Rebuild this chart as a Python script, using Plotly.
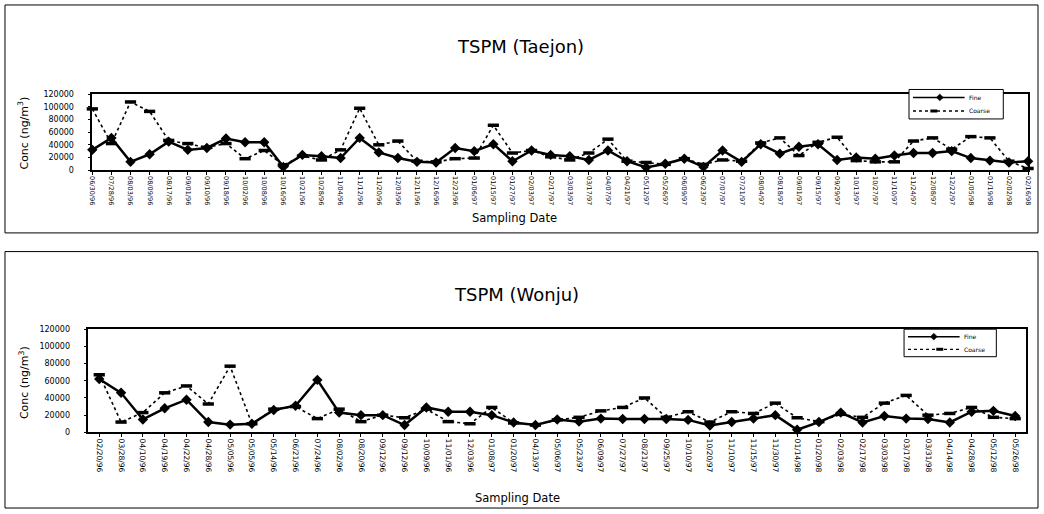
import plotly.graph_objects as go

W, H = 1044, 514

# ---------------- data ----------------
taejon_dates = [
    "06/30/96", "07/28/96", "08/03/96", "08/09/96", "08/17/96", "09/01/96", "09/10/96", "09/18/96",
    "10/02/96", "10/08/96", "10/16/96", "10/21/96", "10/28/96", "11/04/96", "11/12/96", "11/20/96",
    "12/03/96", "12/11/96", "12/16/96", "12/23/96", "01/06/97", "01/15/97", "01/27/97", "02/03/97",
    "02/17/97", "03/03/97", "03/17/97", "04/07/97", "04/21/97", "05/12/97", "05/26/97", "06/09/97",
    "06/23/97", "07/07/97", "07/21/97", "08/04/97", "08/18/97", "09/01/97", "09/15/97", "09/29/97",
    "10/13/97", "10/27/97", "11/10/97", "11/24/97", "12/08/97", "12/22/97", "01/05/98", "01/19/98",
    "02/02/98", "02/16/98",
]
taejon_fine = [32000, 51000, 13000, 25000, 45000, 32000, 35000, 50000, 44000, 44000,
               5000, 24000, 22000, 19000, 51000, 28000, 19000, 13000, 12000, 35000,
               30000, 41000, 14000, 31000, 24000, 22000, 16000, 31000, 14000, 4000,
               10000, 18000, 5000, 31000, 13000, 41000, 26000, 37000, 41000, 16000,
               20000, 18000, 23000, 27000, 27000, 30000, 19000, 15000, 12000, 14000]
taejon_coarse = [97000, 42000, 108000, 93000, 47000, 42000, 36000, 42000, 18000, 31000,
                 8000, 22000, 16000, 32000, 98000, 40000, 46000, 14000, 13000, 18000,
                 19000, 71000, 27000, 31000, 21000, 16000, 27000, 49000, 14000, 12000,
                 9000, 18000, 9000, 16000, 14000, 43000, 51000, 23000, 44000, 52000,
                 15000, 13000, 13000, 46000, 51000, 33000, 53000, 51000, 14000, 2500]

wonju_dates = [
    "02/20/96", "03/28/96", "04/10/96", "04/19/96", "04/22/96", "04/28/96", "05/05/96", "05/05/96",
    "05/14/96", "06/21/96", "07/24/96", "08/02/96", "08/20/96", "09/12/96", "09/12/96", "10/09/96",
    "11/01/96", "12/03/96", "01/08/97", "01/20/97", "04/13/97", "05/06/97", "05/23/97", "06/09/97",
    "07/27/97", "08/21/97", "09/25/97", "10/10/97", "10/20/97", "11/10/97", "11/15/97", "11/30/97",
    "01/14/98", "01/20/98", "02/03/98", "02/17/98", "03/03/98", "03/17/98", "03/31/98", "04/14/98",
    "04/28/98", "05/12/98", "05/26/98",
]
wonju_fine = [62000, 46000, 15000, 28000, 38000, 12000, 9000, 10000, 26000, 31000,
              61000, 23000, 20000, 20000, 8500, 29000, 24000, 24000, 20000, 11500,
              8500, 15000, 12500, 16000, 15500, 15500, 15500, 14500, 8000, 12000,
              16000, 20000, 3000, 12000, 23000, 11500, 19000, 16000, 15500, 11500,
              24000, 25000, 19000]
wonju_coarse = [67000, 12000, 23000, 46000, 54000, 33000, 77000, 10000, 27000, 30000,
                16000, 27000, 12500, 20000, 17000, 27000, 12500, 10000, 29000, 11000,
                8500, 14500, 17500, 25000, 29000, 40000, 17500, 24000, 12000, 24000,
                22000, 34000, 17000, 12500, 21000, 17500, 34000, 43000, 20000, 22000,
                29000, 17500, 16000]

y_tick_vals = [0, 20000, 40000, 60000, 80000, 100000, 120000]
y_tick_text = ["0", "20000", "40000", "60000", "80000", "100000", "120000"]
legend_names = ["Fine", "Coarse"]

FONT = "DejaVu Sans"


def px_x(x):
    return x / W


def px_y(y):
    return 1 - y / H


fig = go.Figure()

panels = [
    dict(dates=taejon_dates, fine=taejon_fine, coarse=taejon_coarse, xa="x", ya="y"),
    dict(dates=wonju_dates, fine=wonju_fine, coarse=wonju_coarse, xa="x2", ya="y2"),
]

for p in panels:
    idx = list(range(len(p["dates"])))
    fig.add_trace(go.Scatter(
        x=idx, y=p["fine"], name=legend_names[0], mode="lines+markers",
        line=dict(color="black", width=2.5),
        marker=dict(symbol="diamond", size=8, color="black"),
        xaxis=p["xa"], yaxis=p["ya"], cliponaxis=False, showlegend=False,
    ))
    fig.add_trace(go.Scatter(
        x=idx, y=p["coarse"], name=legend_names[1], mode="lines+markers",
        line=dict(color="black", width=1.6, dash="dot"),
        marker=dict(symbol="line-ew", size=8, color="black", line=dict(color="black", width=3.5)),
        xaxis=p["xa"], yaxis=p["ya"], cliponaxis=False, showlegend=False,
    ))

common_x = dict(
    showline=True, linecolor="black", linewidth=1.5, mirror=True,
    ticks="outside", ticklen=3, tickcolor="black", tickangle=90,
    showgrid=False, zeroline=False, tickmode="array",
)
common_y = dict(
    showline=True, linecolor="black", linewidth=1.5, mirror=True,
    ticks="outside", ticklen=3, tickcolor="black",
    showgrid=False, zeroline=False, tickmode="array",
    tickvals=y_tick_vals, ticktext=y_tick_text, range=[0, 120000],
    tickfont=dict(family=FONT, size=8, color="black"), ticklabelstandoff=12,
)

fig.update_layout(
    width=W, height=H, margin=dict(l=0, r=0, t=0, b=0),
    paper_bgcolor="white", plot_bgcolor="white",
    xaxis=dict(common_x, domain=[px_x(89), px_x(1032)], anchor="y",
               range=[0, len(taejon_dates) - 1],
               tickvals=list(range(len(taejon_dates))), ticktext=taejon_dates,
               tickfont=dict(family=FONT, size=6.5, color="black")),
    yaxis=dict(common_y, domain=[px_y(169), px_y(92)], anchor="x"),
    xaxis2=dict(common_x, domain=[px_x(85), px_x(1030)], anchor="y2",
                range=[-0.5, len(wonju_dates) - 0.5],
                tickvals=list(range(len(wonju_dates))), ticktext=wonju_dates,
                tickfont=dict(family=FONT, size=7.5, color="black")),
    yaxis2=dict(common_y, domain=[px_y(436), px_y(331)], anchor="x2"),
    showlegend=False,
)

# panel frames
fig.add_shape(type="rect", xref="paper", yref="paper",
              x0=px_x(1), x1=px_x(1042), y0=px_y(233), y1=px_y(1),
              line=dict(color="black", width=1))
fig.add_shape(type="rect", xref="paper", yref="paper",
              x0=px_x(1), x1=px_x(1042), y0=px_y(513), y1=px_y(252),
              line=dict(color="black", width=1))


def draw_legend(x0, y0, x1, y1, diamond_x, dash_x):
    """Custom compact legend box (Excel style)."""
    fig.add_shape(type="rect", xref="paper", yref="paper",
                  x0=px_x(x0), x1=px_x(x1), y0=px_y(y1), y1=px_y(y0),
                  line=dict(color="black", width=1), fillcolor="white", layer="above")
    row1 = y0 + (y1 - y0) * 0.27
    row2 = y0 + (y1 - y0) * 0.73
    lx0, lx1 = x0 + 4, x0 + 56
    fig.add_shape(type="line", xref="paper", yref="paper",
                  x0=px_x(lx0), x1=px_x(lx1), y0=px_y(row1), y1=px_y(row1),
                  line=dict(color="black", width=1.5), layer="above")
    d = 3.5
    path = "M {} {} L {} {} L {} {} L {} {} Z".format(
        px_x(diamond_x - d), px_y(row1), px_x(diamond_x), px_y(row1 - d),
        px_x(diamond_x + d), px_y(row1), px_x(diamond_x), px_y(row1 + d))
    fig.add_shape(type="path", xref="paper", yref="paper", path=path,
                  fillcolor="black", line=dict(color="black", width=0.5), layer="above")
    fig.add_shape(type="line", xref="paper", yref="paper",
                  x0=px_x(lx0), x1=px_x(lx1), y0=px_y(row2), y1=px_y(row2),
                  line=dict(color="black", width=1.3, dash="dot"), layer="above")
    fig.add_shape(type="line", xref="paper", yref="paper",
                  x0=px_x(dash_x - 3.5), x1=px_x(dash_x + 3.5), y0=px_y(row2), y1=px_y(row2),
                  line=dict(color="black", width=3), layer="above")
    for name, ry in zip(legend_names, [row1, row2]):
        fig.add_annotation(text=name, x=px_x(lx1 + 2), y=px_y(ry), xref="paper", yref="paper",
                           showarrow=False, xanchor="left", yanchor="middle",
                           font=dict(family=FONT, size=6, color="black"))


draw_legend(912, 87, 1007, 117, 943, 937)
draw_legend(907, 331, 1000, 359, 937, 943)

annots = [
    ("TSPM (Taejon)", 520, 43, 18, 0),
    ("TSPM (Wonju)", 516, 296, 18, 0),
    ("Sampling Date", 514, 218, 11.5, 0),
    ("Sampling Date", 517, 503, 11.5, 0),
    ("Conc (ng/m<sup>3</sup>)", 20, 131, 11, -90),
    ("Conc (ng/m<sup>3</sup>)", 20, 385, 11, -90),
]
for text, x, y, size, ang in annots:
    fig.add_annotation(text=text, x=px_x(x), y=px_y(y), xref="paper", yref="paper",
                       showarrow=False, textangle=ang, xanchor="center", yanchor="middle",
                       font=dict(family=FONT, size=size, color="black"))

fig.write_html("out.html",
               config={"displayModeBar": False},
               post_script="document.body.style.margin='0';document.body.style.overflow='hidden';")
